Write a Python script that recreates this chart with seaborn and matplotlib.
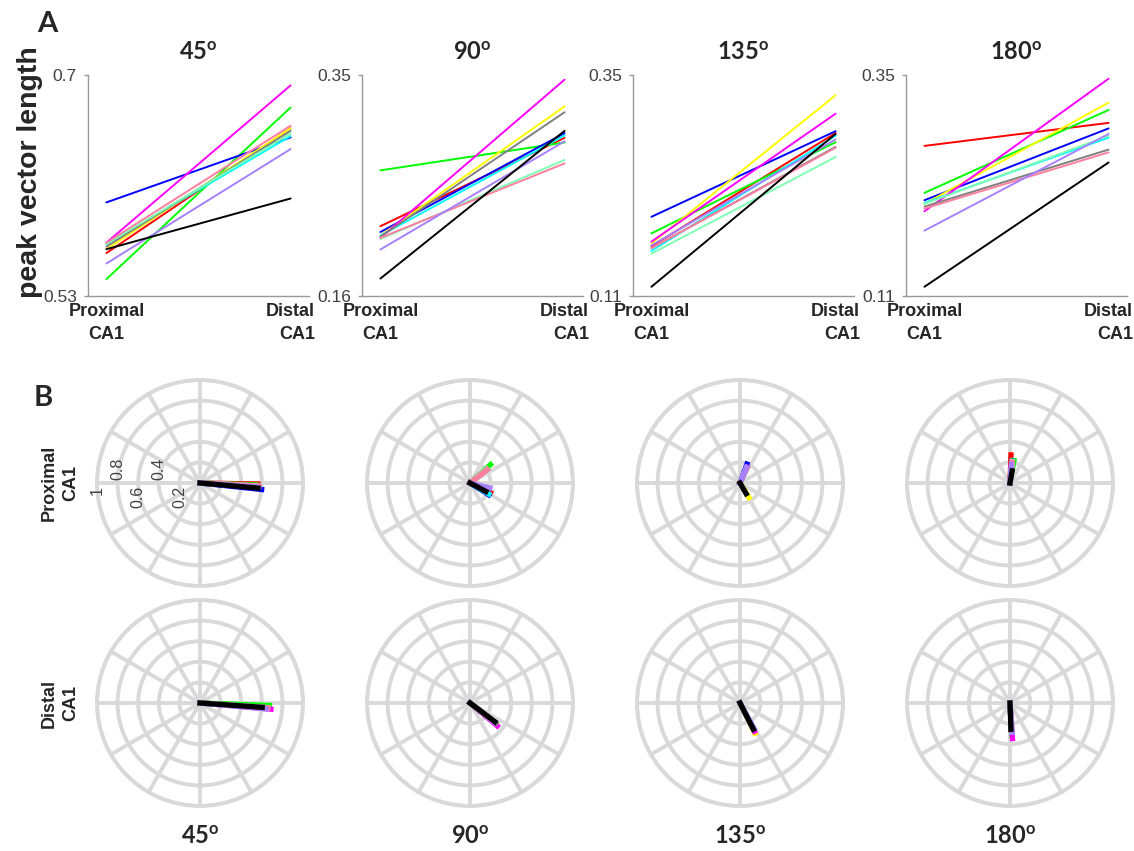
import numpy as np
import pandas as pd
import seaborn as sns
import matplotlib
matplotlib.use("Agg")
import matplotlib.pyplot as plt

sns.set_theme(style="white")
plt.rcParams['font.family'] = ['Liberation Sans', 'DejaVu Sans']
plt.rcParams['mathtext.fontset'] = 'custom'
plt.rcParams['mathtext.rm'] = 'Lato'
plt.rcParams['mathtext.bf'] = 'Lato:bold'

# ---- data ----
conditions = ['45', '90', '135', '180']
cells = ['red', 'green', 'blue', 'yellow', 'cyan', 'magenta', 'gray',
         'aquamarine', 'pink', 'lavender', 'black']
palette = ['#ff0000', '#00ff00', '#0000ff', '#ffff00', '#00ffff', '#ff00ff',
           '#808080', '#7fffb2', '#ff7f9f', '#a680ff', '#000000']

# peak vector length, proximal / distal CA1
prox_45 = [0.563, 0.543, 0.602, 0.566, 0.570, 0.571, 0.568, 0.570, 0.571, 0.555, 0.566]
dist_45 = [0.659, 0.675, 0.652, 0.659, 0.653, 0.692, 0.657, 0.655, 0.661, 0.643, 0.605]
prox_90 = [0.220, 0.268, 0.215, 0.212, 0.212, 0.210, 0.211, 0.209, 0.210, 0.200, 0.175]
dist_90 = [0.296, 0.292, 0.300, 0.323, 0.298, 0.346, 0.318, 0.277, 0.274, 0.293, 0.302]
prox_135 = [0.164, 0.178, 0.196, 0.167, 0.159, 0.169, 0.162, 0.156, 0.162, 0.165, 0.120]
dist_135 = [0.287, 0.277, 0.289, 0.328, 0.284, 0.308, 0.272, 0.261, 0.271, 0.280, 0.286]
prox_180 = [0.273, 0.222, 0.214, 0.210, 0.211, 0.202, 0.207, 0.210, 0.205, 0.181, 0.120]
dist_180 = [0.298, 0.312, 0.292, 0.320, 0.282, 0.346, 0.269, 0.284, 0.266, 0.286, 0.255]

# preferred angle of the peak vector (degrees)
ang_prox_45 = [-1, -2, -6, -3, -4, -3, -3, -3, -3, -4, -5]
ang_dist_45 = [-3, -2, -4, -4, -4, -5, -4, -4, -4, -5, -4]
ang_prox_90 = [-25, 42, -32, 40, -30, 40, 38, 40, 38, -14, -28]
ang_dist_90 = [-38, -38, -38, -39, -38, -40, -38, -38, -38, -38, -37]
ang_prox_135 = [67, 68, 70, -58, 66, 66, 66, 67, 66, 68, -60]
ang_dist_135 = [-63, -63, -63, -64, -63, -63, -63, -63, -63, -61, -63]
ang_prox_180 = [88, 80, 85, 84, 84, 85, 84, 84, 84, 86, 80]
ang_dist_180 = [-87, -87, -87, -86, -87, -86, -87, -87, -87, -86, -88]

y_limits = [(0.53, 0.7), (0.16, 0.35), (0.11, 0.35), (0.11, 0.35)]
y_ticklabels = [('0.53', '0.7'), ('0.16', '0.35'), ('0.11', '0.35'), ('0.11', '0.35')]

prox_all = [prox_45, prox_90, prox_135, prox_180]
dist_all = [dist_45, dist_90, dist_135, dist_180]
ang_prox_all = [ang_prox_45, ang_prox_90, ang_prox_135, ang_prox_180]
ang_dist_all = [ang_dist_45, ang_dist_90, ang_dist_135, ang_dist_180]

W, H = 1134, 851
fig = plt.figure(figsize=(W / 100, H / 100), dpi=100)

def deg_title(c):
    return c + r'$^{\mathbf{o}}$'

# ---- panel A: paired lines ----
top_lefts = [88, 362, 633, 906]
for i, cond in enumerate(conditions):
    ax = fig.add_axes([top_lefts[i] / W, 1 - 296 / H, 221 / W, 221 / H])
    n = len(cells)
    df = pd.DataFrame({'pos': [1] * n + [2] * n,
                       'value': prox_all[i] + dist_all[i],
                       'cell': cells * 2})
    sns.lineplot(data=df, x='pos', y='value', hue='cell', hue_order=cells,
                 palette=palette, legend=False, lw=1.4, errorbar=None, ax=ax)
    ax.set_xlim(0.9, 2.1)
    ax.set_ylim(*y_limits[i])
    ax.set_yticks(y_limits[i])
    ax.set_yticklabels(y_ticklabels[i], fontsize=12.5, color='#404040')
    ax.set_xticks([1, 2])
    ax.set_xticklabels(['Proximal\nCA1', 'Distal\nCA1'], fontsize=13,
                       fontweight='bold', color='#262626', linespacing=1.45)
    ax.get_xticklabels()[1].set_multialignment('right')
    ax.tick_params(axis='x', length=0, pad=5)
    ax.tick_params(axis='y', length=3, width=1, color='#999999', pad=5, left=True)
    ax.set_xlabel('')
    ax.set_ylabel('')
    sns.despine(ax=ax)
    for s in ['left', 'bottom']:
        ax.spines[s].set_color('#999999')
        ax.spines[s].set_linewidth(1)
    ax.set_title(deg_title(cond), fontsize=17, fontweight='bold',
                 family='Lato', pad=11)

fig.text(30 / W, 1 - 172 / H, 'peak vector length', rotation=90,
         ha='center', va='center', fontsize=20.5, fontweight='bold')
fig.text(47 / W, 1 - 24 / H, 'A', ha='center', va='center', fontsize=21,
         fontweight='bold', family='Lato')
fig.text(43 / W, 1 - 398 / H, 'B', ha='center', va='center', fontsize=21,
         fontweight='bold', family='Lato')

# ---- panel B: polar vectors ----
centers_x = [200, 470, 740, 1010]
centers_y = [483, 703]
R = 103
grid_col = '#d9d9d9'
for i, cond in enumerate(conditions):
    for row, (vals, angs) in enumerate([(prox_all[i], ang_prox_all[i]),
                                        (dist_all[i], ang_dist_all[i])]):
        cx, cy = centers_x[i], centers_y[row]
        ax = fig.add_axes([(cx - R) / W, 1 - (cy + R) / H, 2 * R / W, 2 * R / H],
                          projection='polar')
        ax.set_facecolor('white')
        for v, a, c in zip(vals, angs, palette):
            t = np.deg2rad(a)
            ax.plot([t, t], [0, v], color=c, lw=3.8, solid_capstyle='projecting',
                    zorder=3)
        ax.set_ylim(0, 1)
        ax.set_yticks([0.2, 0.4, 0.6, 0.8, 1.0])
        ax.set_yticklabels([])
        ax.set_xticks(np.deg2rad(np.arange(0, 360, 30)))
        ax.set_xticklabels([])
        ax.grid(True, color=grid_col, lw=2.8)
        ax.spines['polar'].set_color(grid_col)
        ax.spines['polar'].set_linewidth(2.8)
        ax.set_axisbelow(True)
        if i == 0 and row == 0:
            for r, lbl, up in [(1.0, '1', False), (0.8, '0.8', True),
                               (0.6, '0.6', False), (0.4, '0.4', True),
                               (0.2, '0.2', False)]:
                ax.annotate(lbl, xy=(np.pi, r), xytext=(0, 2 if up else -2),
                            textcoords='offset points', rotation=90,
                            ha='center', va='bottom' if up else 'top',
                            fontsize=11.5, color='#404040', zorder=5)
    fig.text(centers_x[i] / W, 1 - 837 / H, deg_title(cond), ha='center',
             va='center', fontsize=17, fontweight='bold', family='Lato')

fig.text(60 / W, 1 - 483 / H, 'Proximal\nCA1', rotation=90, ha='center',
         va='center', fontsize=13, fontweight='bold', multialignment='center',
         color='#262626', linespacing=1.4)
fig.text(60 / W, 1 - 703 / H, 'Distal\nCA1', rotation=90, ha='center',
         va='center', fontsize=13, fontweight='bold', multialignment='center',
         color='#262626', linespacing=1.4)

fig.savefig('out.png', dpi=100, facecolor='white')
